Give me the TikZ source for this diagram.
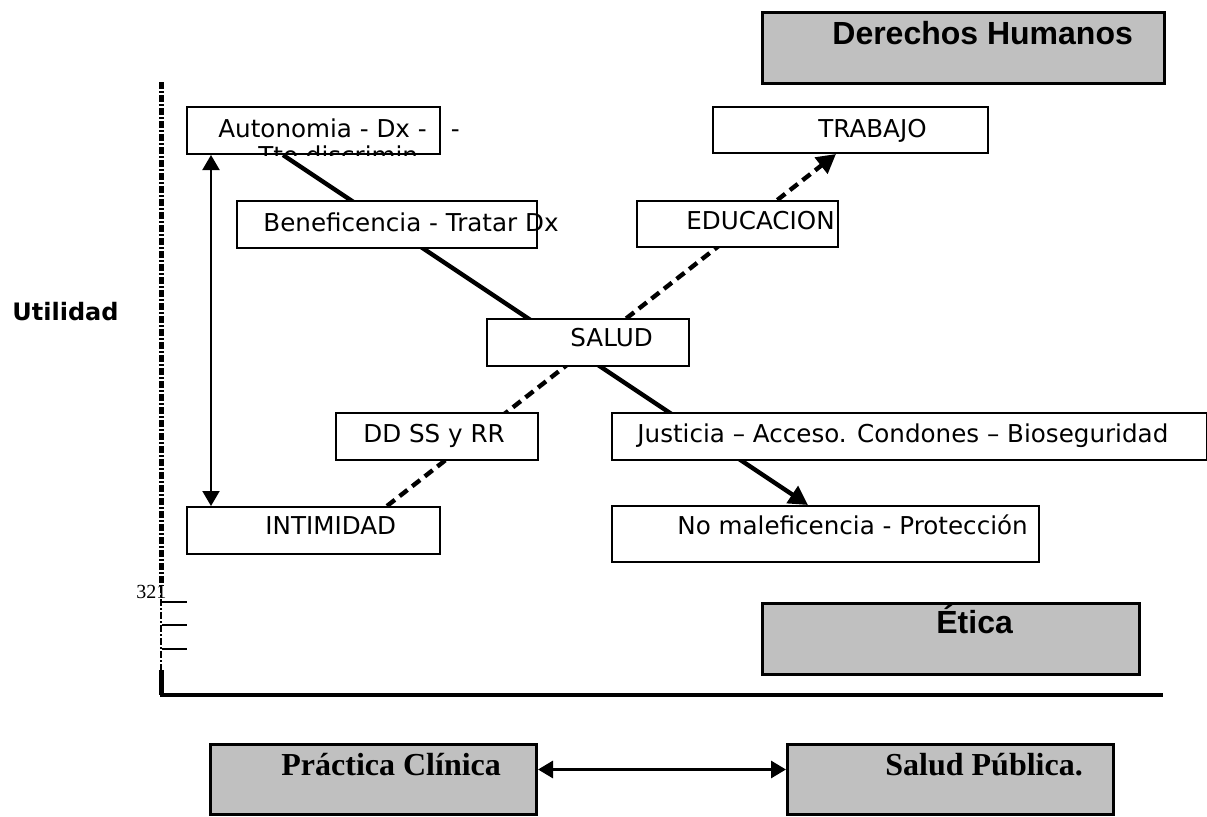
\documentclass[tikz,border=0pt]{standalone}
\usepackage{fontspec}
\setmainfont{DejaVu Sans}
\newfontfamily\arialfont{Liberation Sans}
\newfontfamily\timesfont{Liberation Serif}
\usetikzlibrary{arrows.meta,calc}
\definecolor{boxgray}{RGB}{192,192,192}
\pgfdeclarelayer{background}
\pgfsetlayers{background,main}

\begin{document}
\begin{tikzpicture}[x=0.5pt, y=-0.5pt,
    wbox/.style={rectangle, draw=black, line width=1pt, fill=white, inner sep=0pt, anchor=north west},
    gbox/.style={rectangle, draw=black, line width=1.5pt, fill=boxgray, inner sep=0pt, anchor=north west},
    txt/.style={anchor=base west, inner sep=0pt, font=\fontsize{12.3}{14}\selectfont},
    ttl/.style={anchor=base west, inner sep=0pt, font=\fontsize{16}{19}\selectfont\arialfont\bfseries},
    ttlserif/.style={anchor=base west, inner sep=0pt, font=\fontsize{16}{19}\selectfont\timesfont\bfseries},
    link/.style={line width=2.2pt, -{Triangle[length=9.5pt,width=10pt]}},
    dlink/.style={line width=2.2pt, dash pattern=on 5pt off 3pt, -{Triangle[length=9.5pt,width=10pt]}},
    both/.style={{Triangle[length=7.5pt,width=8.5pt]}-{Triangle[length=7.5pt,width=8.5pt]}},
    axisdash/.style={dash pattern=on 3.5pt off 1pt on 1pt off 1pt}
  ]
  \useasboundingbox (0,0) rectangle (1207,816);

  % grey title boxes
  \node[gbox, minimum width=201pt, minimum height=35.5pt] (dh) at (761,11) {};
  \node[ttl] (dhT) at (832,44) {Derechos Humanos};
  \node[gbox, minimum width=188.5pt, minimum height=35.5pt] (etica) at (761,602) {};
  \node[ttl] (eticaT) at (936,633) {Ética};
  \node[gbox, minimum width=163pt, minimum height=35pt] (prac) at (209,743) {};
  \node[ttlserif] (pracT) at (281,775) {Práctica Clínica};
  \node[gbox, minimum width=163pt, minimum height=35pt] (spub) at (786,743) {};
  \node[ttlserif] (spubT) at (885,775) {Salud Pública.};

  % axes
  \draw[line width=2.5pt, axisdash] (161,82) -- (161,586);
  \draw[line width=1.2pt, axisdash] (161,586) -- (161,670);
  \draw[line width=2.5pt] (161,670) -- (161,695);
  \draw[line width=2pt] (160,695) -- (1163,695);
  \node[anchor=base west, inner sep=0pt, font=\fontsize{12}{14}\selectfont\bfseries] (util) at (12,320) {Utilidad};
  \node[anchor=base west, inner sep=0pt, font=\fontsize{10}{12}\selectfont\timesfont] (num) at (136,598) {321};
  \foreach \ty in {602,625,649}
    \draw[line width=0.6pt] (162,\ty) -- (187,\ty);

  % white boxes
  \node[wbox, minimum width=126.5pt, minimum height=23.5pt] (auto) at (186,106) {};
  \node[wbox, minimum width=137.5pt, minimum height=23pt] (trab) at (712,106) {};
  \node[wbox, minimum width=150pt, minimum height=23.5pt] (benef) at (236,200) {};
  \node[wbox, minimum width=100.5pt, minimum height=23pt] (educ) at (636,200) {};
  \node[wbox, minimum width=101pt, minimum height=23.5pt] (salud) at (486,318) {};
  \node[wbox, minimum width=101pt, minimum height=23.5pt] (ddss) at (335,412) {};
  \node[wbox, minimum width=297.5pt, minimum height=23.5pt] (just) at (611,412) {};
  \node[wbox, minimum width=126.5pt, minimum height=23.5pt] (intim) at (186,506) {};
  \node[wbox, minimum width=213.5pt, minimum height=28pt] (nomal) at (611,505) {};

  \node[txt] (autoT) at (218,137) {Autonomia - Dx -\hspace{12pt}-};
  \begin{scope}
    \clip (auto.south west) rectangle (auto.north east);
    \node[txt] (autoT2) at (258,164) {Tto discrimin};
  \end{scope}
  \node[txt] (trabT) at (818,137) {TRABAJO};
  \node[txt] (benefT) at (263,231) {Beneficencia - Tratar Dx};
  \node[txt] (educT) at (686,229) {EDUCACION};
  \node[txt] (saludT) at (570,346) {SALUD};
  \node[txt] (ddssT) at (363,442) {DD SS y RR};
  \node[txt] (justT) at (637,442) {Justicia – Acceso. Condones – Bioseguridad};
  \node[txt] (intimT) at (265,534) {INTIMIDAD};
  \node[txt] (nomalT) at (677,534) {No maleficencia - Protección};

  % connectors behind the boxes
  \begin{pgfonlayer}{background}
    \draw[link] ([xshift=48.5pt]auto.south west) -- ([xshift=98.5pt]nomal.north west);
    \draw[dlink] ([xshift=100.5pt]intim.north west) -- ([xshift=62pt]trab.south west);
  \end{pgfonlayer}

  \draw[line width=1pt, both] ([xshift=12.5pt]auto.south west) -- ([xshift=12.5pt]intim.north west);
  \draw[line width=1.5pt, both] ([yshift=5pt]prac.east) -- ([yshift=5pt]spub.west);
\end{tikzpicture}
\end{document}
